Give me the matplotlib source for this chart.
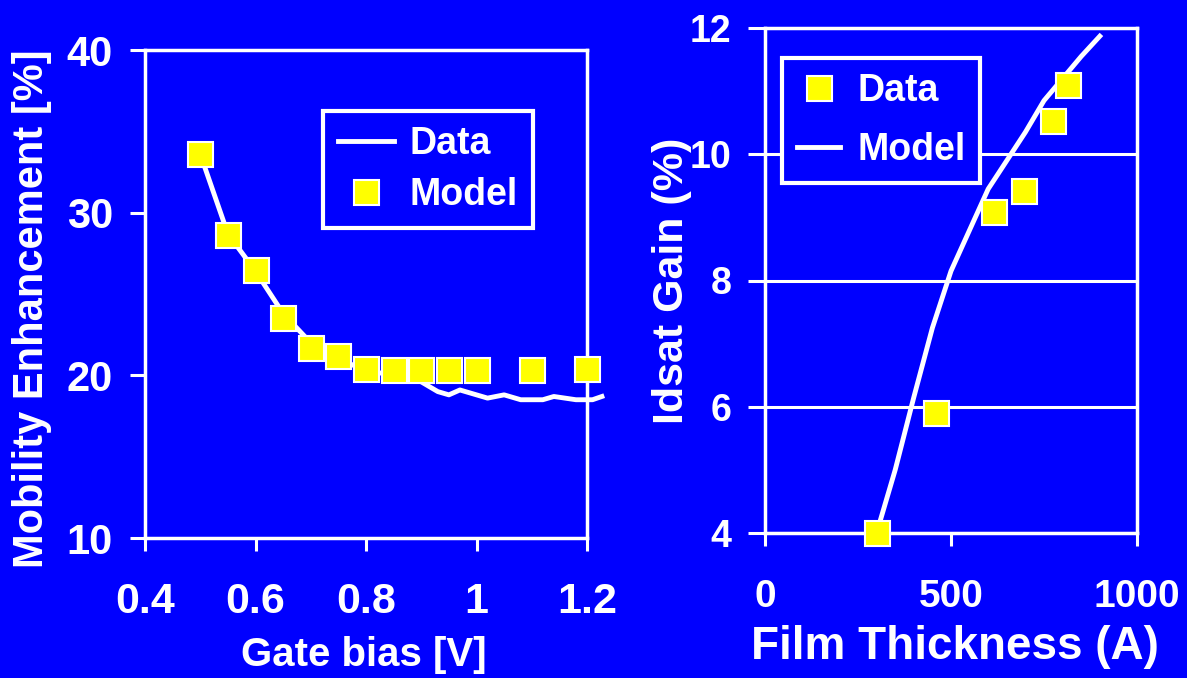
import numpy as np
import matplotlib
matplotlib.use("Agg")
import matplotlib.pyplot as plt

plt.rcParams['font.family'] = ['Liberation Sans', 'DejaVu Sans']
plt.rcParams['font.weight'] = 'bold'

# left panel: mobility enhancement vs gate bias
bias_data = [0.50, 0.55, 0.60, 0.65, 0.70, 0.75, 0.80, 0.85, 0.90, 0.93, 0.95, 0.97,
             1.00, 1.02, 1.05, 1.08, 1.12, 1.14, 1.18, 1.21, 1.227]
mob_data = [33.6, 28.7, 26.4, 23.8, 22.0, 21.0, 20.3, 20.0, 19.6, 19.0, 18.8, 19.1,
            18.8, 18.6, 18.8, 18.5, 18.5, 18.7, 18.5, 18.5, 18.7]
bias_model = [0.50, 0.55, 0.60, 0.65, 0.70, 0.75, 0.80, 0.85, 0.90, 0.95, 1.00, 1.10, 1.20]
mob_model = [33.6, 28.6, 26.5, 23.5, 21.7, 21.2, 20.4, 20.3, 20.3, 20.3, 20.3, 20.3, 20.4]

# right panel: Idsat gain vs film thickness
thick_data = [300, 460, 615, 695, 775, 815]
gain_data = [4.0, 5.9, 9.08, 9.42, 10.52, 11.1]
thick_model = [300, 350, 400, 450, 500, 550, 600, 650, 700, 750, 800, 850, 900]
gain_model = [4.0, 5.0, 6.15, 7.25, 8.15, 8.8, 9.45, 9.9, 10.35, 10.85, 11.2, 11.55, 11.87]

blue = '#0000FF'
yellow = '#FFFF00'
white = 'white'

fig = plt.figure(figsize=(11.87, 6.78), dpi=100, facecolor=blue)

ax1 = fig.add_axes([145/1187, 1 - 538/678, 442/1187, 488/678], facecolor=blue)
ax2 = fig.add_axes([765/1187, 1 - 533/678, 372/1187, 505/678], facecolor=blue)

# ---- left plot ----
ax1.plot(bias_data, mob_data, color=white, lw=3.5, clip_on=False, zorder=3, label='Data')
ax1.plot(bias_model, mob_model, ls='none', marker='s', ms=18, mfc=yellow, mec=white,
         mew=1.5, clip_on=False, zorder=4, label='Model')
ax1.set_xlim(0.4, 1.2)
ax1.set_ylim(10, 40)
ax1.set_xticks([0.4, 0.6, 0.8, 1.0, 1.2])
ax1.set_xticklabels(['0.4', '0.6', '0.8', '1', '1.2'])
ax1.set_yticks([10, 20, 30, 40])
ax1.tick_params(axis='x', direction='out', length=9, width=2.2, colors=white,
                labelsize=31, pad=23)
ax1.tick_params(axis='y', direction='out', length=11, width=2.2, colors=white,
                labelsize=30, pad=12)
ax1.set_xlabel('Gate bias [V]', color=white, fontsize=29, fontweight='bold', va='center')
ax1.xaxis.set_label_coords(0.495, -0.24)
ax1.set_ylabel('Mobility Enhancement [%]', color=white, fontsize=30, fontweight='bold',
               va='center')
ax1.yaxis.set_label_coords(-0.255, 0.47)
leg1 = ax1.legend(loc='upper left', bbox_to_anchor=(0.403, 0.875), fontsize=27,
                  frameon=True, fancybox=False, framealpha=1, facecolor=blue,
                  edgecolor=white, handlelength=1.5, labelspacing=0.4,
                  borderpad=0.4, handletextpad=0.4, borderaxespad=0)
leg1.get_frame().set_linewidth(3)
for t in leg1.get_texts():
    t.set_color(white)

# ---- right plot ----
ax2.plot(thick_model, gain_model, color=white, lw=3.5, clip_on=False, zorder=3, label='Model')
ax2.plot(thick_data, gain_data, ls='none', marker='s', ms=18, mfc=yellow, mec=white,
         mew=1.5, clip_on=False, zorder=4, label='Data')
ax2.set_xlim(0, 1000)
ax2.set_ylim(4, 12)
ax2.set_xticks([0, 500, 1000])
ax2.set_yticks([4, 6, 8, 10, 12])
ax2.grid(axis='y', color=white, lw=2.2)
ax2.set_axisbelow(True)
ax2.tick_params(axis='x', direction='out', length=9, width=2.2, colors=white,
                labelsize=28, pad=24)
ax2.tick_params(axis='y', direction='out', length=12, width=2.2, colors=white,
                labelsize=27, pad=12)
ax2.set_xlabel('Film Thickness (A)', color=white, fontsize=33, fontweight='bold', va='center')
ax2.xaxis.set_label_coords(0.51, -0.226)
ax2.set_ylabel('Idsat Gain (%)', color=white, fontsize=31, fontweight='bold', va='center')
ax2.yaxis.set_label_coords(-0.25, 0.5)
handles, labels = ax2.get_legend_handles_labels()
leg2 = ax2.legend(handles[::-1], labels[::-1], loc='upper left',
                  bbox_to_anchor=(0.046, 0.94), fontsize=27, frameon=True,
                  fancybox=False, framealpha=1, facecolor=blue, edgecolor=white,
                  handlelength=1.15, labelspacing=0.6, borderpad=0.4,
                  handletextpad=0.45, borderaxespad=0)
leg2.get_frame().set_linewidth(3)
for t in leg2.get_texts():
    t.set_color(white)

for ax in (ax1, ax2):
    for s in ax.spines.values():
        s.set_color(white)
        s.set_linewidth(2.5)
    for lab in ax.get_xticklabels() + ax.get_yticklabels():
        lab.set_fontweight('bold')

fig.savefig('out.png', dpi=100, facecolor=blue)
